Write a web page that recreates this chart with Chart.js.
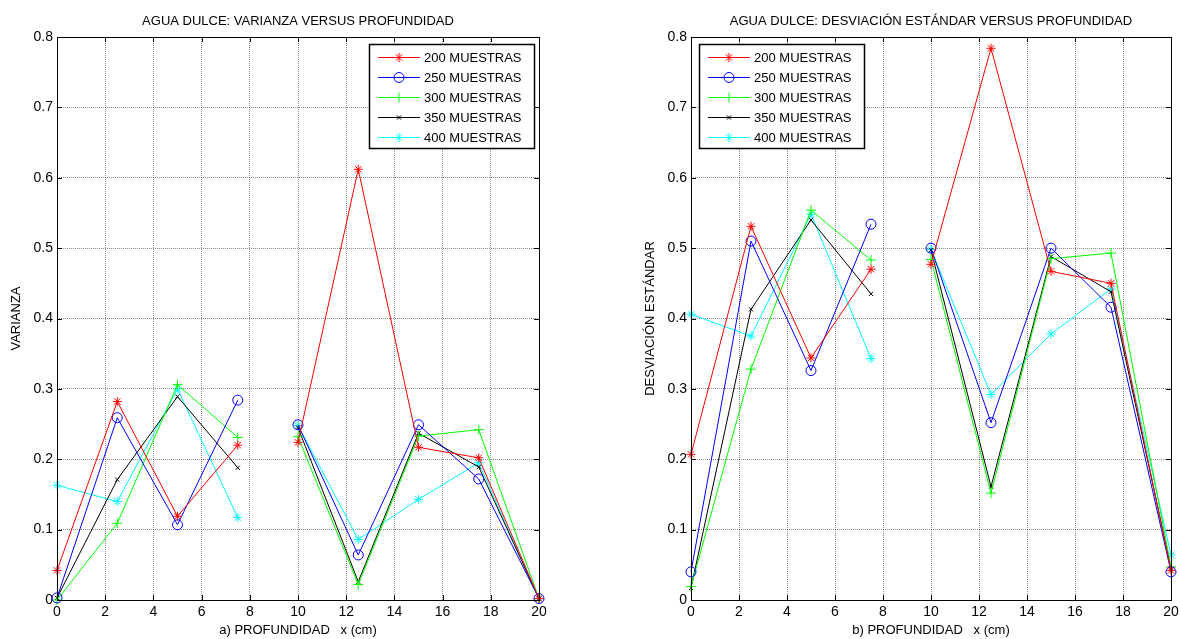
<!DOCTYPE html>
<html>
<head>
<meta charset="utf-8">
<script src="https://cdn.jsdelivr.net/npm/chart.js@4.4.1/dist/chart.umd.min.js"></script>
<style>
  html, body { margin: 0; padding: 0; background: #fff; }
  .box { position: absolute; top: 0; height: 639px; }
  #leftBox { left: 0; width: 560px; }
  #rightBox { left: 634px; width: 546px; }
</style>
</head>
<body>
<div id="leftBox" class="box"><canvas id="varChart"></canvas></div>
<div id="rightBox" class="box"><canvas id="stdChart"></canvas></div>
<script>
// depth positions (cm); the line is broken after the 4th point (7.5 -> 10)
const depth = [0, 2.5, 5, 7.5, 10, 12.5, 15, 17.5, 20];
const seriesNames = ['200 MUESTRAS', '250 MUESTRAS', '300 MUESTRAS', '350 MUESTRAS', '400 MUESTRAS'];
const xTicks = [0, 2, 4, 6, 8, 10, 12, 14, 16, 18, 20];
const yTicks = [0, 0.1, 0.2, 0.3, 0.4, 0.5, 0.6, 0.7, 0.8];
const yTickLabels = ['0', '0.1', '0.2', '0.3', '0.4', '0.5', '0.6', '0.7', '0.8'];

// a) varianza
const var200 = [0.042, 0.282, 0.119, 0.220, 0.224, 0.612, 0.217, 0.202, 0.002];
const var250 = [0.003, 0.259, 0.107, 0.284, 0.249, 0.064, 0.249, 0.172, 0.002];
const var300 = [0.000, 0.109, 0.306, 0.231, 0.232, 0.022, 0.233, 0.242, 0.002];
const var350 = [0.003, 0.171, 0.289, 0.188, 0.245, 0.026, 0.237, 0.189, 0.002];
const var400 = [0.163, 0.140, 0.300, 0.117, 0.248, 0.086, 0.143, 0.195, 0.002];

// b) desviacion estandar
const std200 = [0.207, 0.531, 0.344, 0.470, 0.477, 0.784, 0.467, 0.450, 0.042];
const std250 = [0.040, 0.510, 0.326, 0.534, 0.500, 0.252, 0.500, 0.416, 0.040];
const std300 = [0.019, 0.328, 0.554, 0.483, 0.484, 0.152, 0.485, 0.493, 0.047];
const std350 = [0.017, 0.413, 0.540, 0.435, 0.497, 0.161, 0.488, 0.438, 0.045];
const std400 = [0.406, 0.375, 0.548, 0.343, 0.498, 0.292, 0.378, 0.442, 0.064];

const breakAfter = 3;

const colors = ['#ff0000', '#0000ff', '#00ff00', '#000000', '#00ffff'];
const markers = ['star', 'circle', 'cross', 'crossRot', 'star'];
const markerSize = [4.5, 5, 5, 3, 4.5];
const FONT = 'Liberation Sans, Arial, sans-serif';
const GRID = 'rgba(0,0,0,0.45)';

function makeDatasets(lists) {
  return lists.map((vals, i) => ({
    label: seriesNames[i],
    data: depth.map((d, k) => ({ x: d, y: vals[k] })),
    borderColor: colors[i],
    borderWidth: 1,
    pointStyle: markers[i],
    pointRadius: markerSize[i],
    pointBorderColor: colors[i],
    pointBackgroundColor: 'rgba(0,0,0,0)',
    pointBorderWidth: 1,
    tension: 0,
    fill: false,
    clip: false,
    segment: {
      borderColor: ctx => ctx.p0DataIndex === breakAfter ? 'rgba(0,0,0,0)' : undefined
    }
  }));
}

// MATLAB-like frame, inward ticks and boxed legend
const matlabFrame = {
  id: 'matlabFrame',
  afterDraw(chart, args, opts) {
    const { ctx, chartArea: a } = chart;
    const x = chart.scales.x, y = chart.scales.y;
    ctx.save();
    ctx.strokeStyle = '#000';
    ctx.lineWidth = 1;
    ctx.setLineDash([]);
    ctx.strokeRect(Math.round(a.left) + 0.5, Math.round(a.top) + 0.5,
      Math.round(a.right - a.left), Math.round(a.bottom - a.top));
    ctx.beginPath();
    x.ticks.forEach(t => {
      const px = Math.round(x.getPixelForValue(t.value)) + 0.5;
      ctx.moveTo(px, a.bottom); ctx.lineTo(px, a.bottom - 5);
      ctx.moveTo(px, a.top); ctx.lineTo(px, a.top + 5);
    });
    y.ticks.forEach(t => {
      const py = Math.round(y.getPixelForValue(t.value)) + 0.5;
      ctx.moveTo(a.left, py); ctx.lineTo(a.left + 5, py);
      ctx.moveTo(a.right, py); ctx.lineTo(a.right - 5, py);
    });
    ctx.stroke();

    // legend
    const w = 165, h = 104;
    const bx = opts.side === 'right' ? Math.round(a.right) - 5 - w : Math.round(a.left) + 8;
    const by = Math.round(a.top) + 7;
    ctx.fillStyle = '#fff';
    ctx.fillRect(bx, by, w, h);
    ctx.strokeStyle = '#000';
    ctx.lineWidth = 1.5;
    ctx.strokeRect(bx + 0.5, by + 0.5, w, h);
    ctx.font = '13px ' + FONT;
    ctx.textBaseline = 'middle';
    ctx.textAlign = 'left';
    chart.data.datasets.forEach((ds, i) => {
      const ry = by + 13 + i * 20;
      ctx.strokeStyle = ds.borderColor;
      ctx.lineWidth = 1;
      ctx.beginPath();
      ctx.moveTo(bx + 9, ry + 0.5);
      ctx.lineTo(bx + 51, ry + 0.5);
      ctx.stroke();
      ctx.fillStyle = 'rgba(0,0,0,0)';
      Chart.helpers.drawPoint(ctx, {
        pointStyle: ds.pointStyle, radius: ds.pointRadius, borderWidth: 1, rotation: 0
      }, bx + 30, ry + 0.5);
      ctx.fillStyle = '#000';
      ctx.fillText(ds.label, bx + 55, ry + 1);
    });
    ctx.restore();
  }
};

function makeChart(id, title, xTitle, yTitle, lists, legendSide, padRight) {
  return new Chart(document.getElementById(id), {
    type: 'line',
    data: { datasets: makeDatasets(lists) },
    plugins: [matlabFrame],
    options: {
      responsive: true,
      maintainAspectRatio: false,
      animation: false,
      layout: { padding: { left: 0, right: padRight, top: 0, bottom: 0 } },
      scales: {
        x: {
          type: 'linear',
          min: 0, max: 20,
          afterBuildTicks: s => { s.ticks = xTicks.map(v => ({ value: v })); },
          afterFit: s => { s.height = 39; s.paddingLeft = 0; s.paddingRight = 0; },
          ticks: {
            color: '#000', font: { family: FONT, size: 14 }, padding: 4,
            maxRotation: 0, autoSkip: false
          },
          grid: { color: GRID, drawTicks: false, lineWidth: 1 },
          border: { display: false, dash: [1, 1] },
          title: {
            display: true, text: xTitle, color: '#000',
            font: { family: FONT, size: 13 }, padding: { top: 0, bottom: 1 }
          }
        },
        y: {
          min: 0, max: 0.8,
          afterBuildTicks: s => { s.ticks = yTicks.map(v => ({ value: v })); },
          afterFit: s => { s.width = 57; },
          ticks: {
            color: '#000', font: { family: FONT, size: 14 }, padding: 4,
            callback: (v) => yTickLabels[yTicks.indexOf(Math.round(v * 10) / 10)]
          },
          grid: { color: GRID, drawTicks: false, lineWidth: 1 },
          border: { display: false, dash: [1, 1] },
          title: {
            display: true, text: yTitle, color: '#000',
            font: { family: FONT, size: 13 }, padding: { top: 9, bottom: 0 }
          }
        }
      },
      plugins: {
        legend: { display: false },
        tooltip: { enabled: false },
        title: {
          display: true, text: title, color: '#000', fullSize: false,
          font: { family: FONT, size: 13, weight: 'normal' },
          padding: { top: 14, bottom: 7.4 }
        },
        matlabFrame: { side: legendSide }
      }
    }
  });
}

makeChart('varChart', 'AGUA DULCE: VARIANZA VERSUS PROFUNDIDAD', 'a) PROFUNDIDAD   x (cm)', 'VARIANZA',
  [var200, var250, var300, var350, var400], 'right', 21);
makeChart('stdChart', 'AGUA DULCE: DESVIACIÓN ESTÁNDAR VERSUS PROFUNDIDAD', 'b) PROFUNDIDAD   x (cm)', 'DESVIACIÓN ESTÁNDAR',
  [std200, std250, std300, std350, std400], 'left', 9);
</script>
</body>
</html>
